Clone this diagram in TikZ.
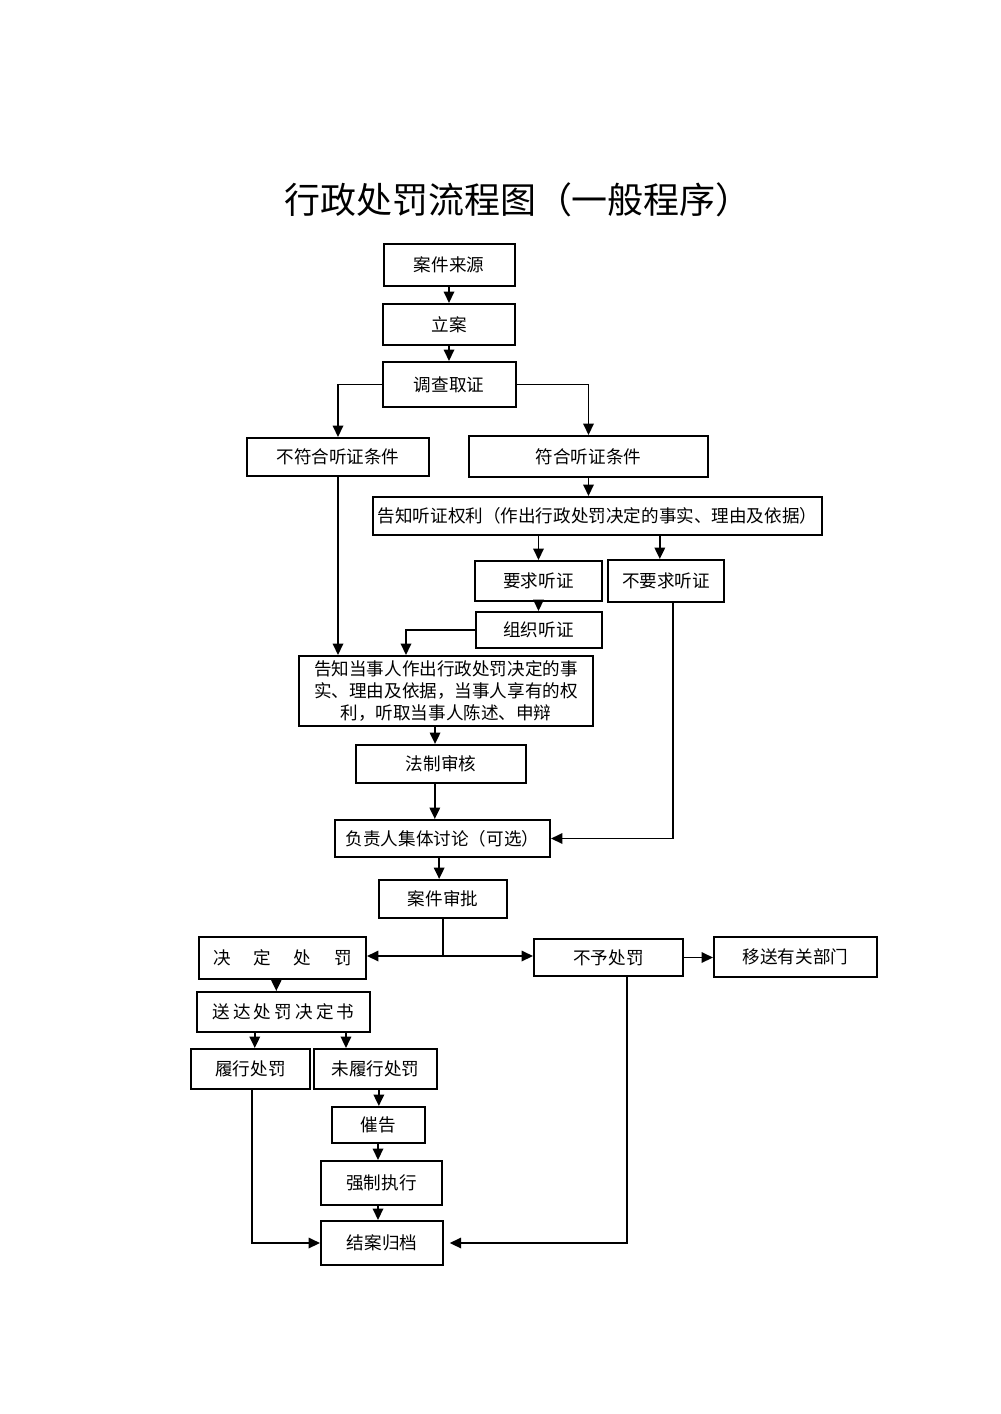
\documentclass[tikz,border=0pt]{standalone}
\usepackage{fontspec}
\setmainfont{Noto Sans CJK SC}
\usetikzlibrary{arrows.meta,calc}

\begin{document}
\begin{tikzpicture}[x=0.021cm,y=-0.021cm,
  box/.style={draw,line width=1.2pt,inner sep=0pt,align=center,font=\fontsize{10.5}{13}\selectfont},
  sz/.style 2 args={minimum width=#1*0.021cm,minimum height=#2*0.021cm},
  arr/.style={line width=1.1pt,-{Triangle[length=0.24cm,width=0.22cm]}},
  ln/.style={line width=1.1pt}]
\fill[white] (0,0) rectangle (1000,1414);
\useasboundingbox (0,0) rectangle (1000,1414);

% Title
\node[font=\fontsize{21.5}{25}\selectfont] (title) at (518,200) {行政处罚流程图（一般程序）};

% Upper part
\node[box,sz={131}{42}] (src) at (449,265) {案件来源};
\node[box,sz={132}{41}] (lian) at (449,324.5) {立案};
\node[box,sz={133}{45}] (dc) at (449,384.5) {调查取证};
\node[box,sz={182}{38}] (bfh) at (338,457) {不符合听证条件};
\node[box,sz={239}{41}] (fh) at (588.5,456.5) {符合听证条件};
\node[box,sz={449}{38}] (gzql) at (597.5,516) {告知听证权利（作出行政处罚决定的事实、理由及依据）};
\node[box,sz={127}{40}] (yq) at (538.5,581) {要求听证};
\node[box,sz={116}{42}] (byq) at (666,581) {不要求听证};
\node[box,sz={126}{36}] (zz) at (538.5,630) {组织听证};
\node[box,sz={294}{70}] (gzdsr) at (446,691) {告知当事人作出行政处罚决定的事\\实、理由及依据，当事人享有的权\\利，听取当事人陈述、申辩};

% Middle part
\node[box,sz={170}{38}] (fz) at (441,764) {法制审核};
\node[box,sz={215}{37}] (fzr) at (442.5,838.5) {负责人集体讨论（可选）};
\node[box,sz={128}{38}] (sp) at (443,899) {案件审批};
\node[box,sz={167}{42}] (jd) at (282.5,958) {决\hspace{1.3em}定\hspace{1.3em}处\hspace{1.3em}罚};
\node[box,sz={149}{37}] (by) at (608.5,957.5) {不予处罚};
\node[box,sz={163}{40}] (ys) at (795.5,957) {移送有关部门};
\coordinate (fork) at (443,956);

% Lower part
\node[box,sz={173}{40}] (sd) at (283.5,1012) {\addfontfeatures{LetterSpace=18}送达处罚决定书};
\node[box,sz={119}{40}] (lx) at (250.5,1069) {履行处罚};
\node[box,sz={123}{40}] (wlx) at (375.5,1069) {未履行处罚};
\node[box,sz={93}{36}] (cg) at (378,1125) {催告};
\node[box,sz={121}{44}] (qz) at (381.5,1183) {强制执行};
\node[box,sz={122}{44}] (ja) at (382,1243) {结案归档};

% Connectors
\draw[arr] (src.south) -- (lian.north);
\draw[arr] (lian.south) -- (dc.north);
\draw[arr] (dc.west) -| (bfh.north);
\draw[arr] (dc.east) -| (fh.north);
\draw[arr] (fh.south) -- (fh.south |- gzql.north);
\draw[arr] (gzql.south -| yq.north) -- (yq.north);
\draw[arr] ([xshift=-0.13cm]gzql.south -| byq.north) -- ([xshift=-0.13cm]byq.north);
\draw[arr] (yq.south) -- (zz.north);
\draw[arr] (zz.west) -| ([xshift=-0.84cm]gzdsr.north);
\draw[arr] (bfh.south) -- (bfh.south |- gzdsr.north);
\draw[arr] ([xshift=-0.23cm]gzdsr.south) -- ([xshift=-0.23cm]gzdsr.south |- fz.north);
\draw[arr] ([xshift=-0.13cm]fz.south) -- ([xshift=-0.13cm]fz.south |- fzr.north);
\draw[arr] ([xshift=0.15cm]byq.south) |- (fzr.east);
\draw[arr] ([xshift=-0.07cm]fzr.south) -- ([xshift=-0.07cm]fzr.south |- sp.north);
\draw[ln] (sp.south) -- (fork);
\draw[arr] (fork) -- (fork -| jd.east);
\draw[arr] (fork) -- (fork -| by.west);
\draw[arr] (by.east) -- (by.east -| ys.west);
\draw[arr] ([xshift=-0.13cm]jd.south) -- ([xshift=-0.13cm]jd.south |- sd.north);
\draw[arr] ([xshift=0.09cm]lx.north |- sd.south) -- ([xshift=0.09cm]lx.north);
\draw[arr] ([xshift=-0.62cm]wlx.north |- sd.south) -- ([xshift=-0.62cm]wlx.north);
\draw[arr] ([xshift=0.07cm]wlx.south) -- ([xshift=0.07cm]wlx.south |- cg.north);
\draw[arr] (cg.south) -- (cg.south |- qz.north);
\draw[arr] (cg.south |- qz.south) -- (cg.south |- ja.north);
\draw[arr] ([xshift=0.03cm]lx.south) |- (ja.west);
\draw[arr,shorten >=0.12cm] ([xshift=0.39cm]by.south) |- (ja.east);
\end{tikzpicture}
\end{document}
